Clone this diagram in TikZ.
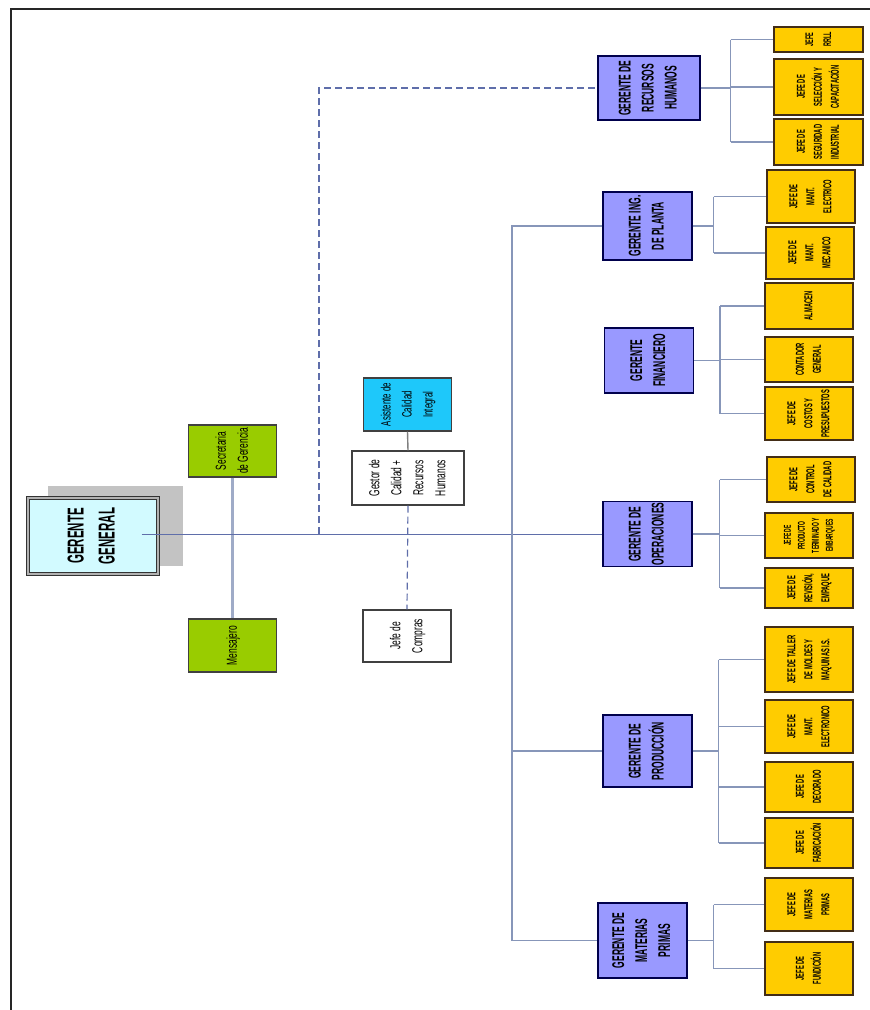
\documentclass[tikz,border=0pt]{standalone}
\usepackage{fontspec}
\usepackage{graphicx}
\newfontfamily\narrowsf[FakeStretch=0.58]{Liberation Sans}
\newfontfamily\narrowersf[FakeStretch=0.5]{Liberation Sans}
\usetikzlibrary{positioning, calc}

\definecolor{gerente}{RGB}{153,153,255}
\definecolor{jefe}{RGB}{255,204,0}
\definecolor{verde}{RGB}{153,204,0}
\definecolor{celeste}{RGB}{30,200,250}
\definecolor{cielo}{RGB}{210,250,255}
\definecolor{linea}{RGB}{95,110,170}
\definecolor{ramalc}{RGB}{135,150,185}
\definecolor{sombra}{RGB}{195,195,195}

% texto vertical, de abajo hacia arriba
\newcommand{\vt}[1]{\rotatebox{90}{\begin{tabular}{@{}c@{}}#1\end{tabular}}}

\begin{document}
\begin{tikzpicture}[x=1pt, y=-1pt,
    caja/.style={draw=black!75, line width=1.1pt, inner sep=0pt, align=center},
    gerente/.style={caja, draw=black!70!blue, fill=gerente, minimum width=89pt,
        font=\narrowersf\bfseries\fontsize{17}{23}\selectfont},
    jefe/.style={caja, draw=black!65!brown, fill=jefe, minimum width=88pt,
        font=\narrowersf\bfseries\fontsize{11.5}{17}\selectfont},
    apoyo/.style={caja, minimum width=88pt, font=\narrowsf\fontsize{14.5}{22}\selectfont},
    linea/.style={draw=linea, line width=1pt},
    ramal/.style={draw=ramalc, line width=1.6pt},
    punteada/.style={draw=linea, line width=1.6pt, dash pattern=on 7pt off 4pt}
]
\useasboundingbox (0,0) rectangle (870,1010);
\draw[black!85, line width=1.3pt] (11,1010) -- (11,9) -- (870,9);

% gerencia general
\fill[sombra] (48,486) rectangle (183,566);
\node[caja, fill=cielo, draw=black!80, double=gray!60, double distance=1.6pt,
    minimum width=130pt, minimum height=76pt,
    font=\narrowersf\bfseries\fontsize{23}{31}\selectfont] (gg) at (93,536) {\vt{GERENTE\\GENERAL}};
\node[apoyo, fill=verde, minimum height=52pt] (sec) at (232.5,451) {\vt{Secretaria\\de Gerencia}};
\node[apoyo, fill=verde, minimum height=53pt] (men) at (232.5,645.5) {\vt{Mensajero}};
\node[apoyo, fill=celeste, minimum height=53pt, font=\narrowsf\fontsize{13.5}{21}\selectfont] (asis) at (407.5,404.5) {\vt{Asistente de\\Calidad\\Integral}};
\node[apoyo, fill=white, minimum width=112pt, minimum height=54pt] (gestor) at (408,478) {\vt{Gestor de\\Calidad +\\Recursos\\Humanos}};
\node[apoyo, fill=white, minimum height=52pt] (compras) at (407,636) {\vt{Jefe de\\Compras}};

% gerentes
\node[gerente, minimum width=102pt, minimum height=64pt] (rh) at (649,88) {\vt{GERENTE DE\\RECURSOS\\HUMANOS}};
\node[gerente, minimum height=68pt] (ip) at (647.5,226) {\vt{GERENTE ING.\\DE PLANTA}};
\node[gerente, minimum height=65pt] (fin) at (649,360.5) {\vt{GERENTE\\FINANCIERO}};
\node[gerente, minimum height=65pt] (op) at (647.5,534) {\vt{GERENTE DE\\OPERACIONES}};
\node[gerente, minimum height=72pt] (pr) at (647.5,751) {\vt{GERENTE DE\\PRODUCCIÓN}};
\node[gerente, minimum height=75pt] (mp) at (642.5,940.5) {\vt{GERENTE DE\\MATERIAS\\PRIMAS}};

% jefaturas
\node[jefe, minimum width=89pt, minimum height=25pt, font=\narrowersf\bfseries\fontsize{11}{18}\selectfont] (rrll) at (818.5,39.5) {\vt{JEFE\\RRLL}};
\node[jefe, minimum width=89pt, minimum height=56pt] (selec) at (818.5,87) {\vt{JEFE DE\\SELECCIÓN Y\\CAPACITACIÓN}};
\node[jefe, minimum width=89pt, minimum height=46pt] (segur) at (818.5,142) {\vt{JEFE DE\\SEGURIDAD\\INDUSTRIAL}};
\node[jefe, minimum height=53pt] (melec) at (811,196.5) {\vt{JEFE DE\\MANT.\\ELECTRICO}};
\node[jefe, minimum height=52pt] (mmec) at (810,253) {\vt{JEFE DE\\MANT.\\MECANICO}};
\node[jefe, minimum height=46pt] (alm) at (809,306) {\vt{ALMACEN}};
\node[jefe, minimum height=45pt] (cont) at (809,359.5) {\vt{CONTADOR\\GENERAL}};
\node[jefe, minimum height=53pt] (cost) at (809,413.5) {\vt{JEFE DE\\COSTOS Y\\PRESUPUESTOS}};
\node[jefe, minimum height=45pt] (ccal) at (811,479.5) {\vt{JEFE DE\\CONTROL\\DE CALIDAD}};
\node[jefe, minimum height=45pt, font=\narrowersf\bfseries\fontsize{10}{14}\selectfont] (pter) at (809,535.5) {\vt{JEFE DE\\PRODUCTO\\TERMINADO Y\\EMBARQUES}};
\node[jefe, minimum height=40pt] (rev) at (809,588) {\vt{JEFE DE\\REVISIÓN,\\EMPAQUE}};
\node[jefe, minimum height=65pt] (tall) at (809,659.5) {\vt{JEFE DE TALLER\\DE MOLDES Y\\MAQUINAS I.S.}};
\node[jefe, minimum height=53pt] (melect) at (809,726.5) {\vt{JEFE DE\\MANT.\\ELECTRONICO}};
\node[jefe, minimum height=50pt] (deco) at (809,787) {\vt{JEFE DE\\DECORADO}};
\node[jefe, minimum height=50pt] (fab) at (809,843) {\vt{JEFE DE\\FABRICACIÓN}};
\node[jefe, minimum height=53pt] (jmp) at (809,904.5) {\vt{JEFE DE\\MATERIAS\\PRIMAS}};
\node[jefe, minimum height=53pt] (fund) at (809,968.5) {\vt{JEFE DE\\FUNDICIÓN}};

% lineas de mando
\coordinate (dj) at (319,534);
\coordinate (tk) at (512,534);
\draw[ramal, line width=2.4pt, draw=ramalc!80] (sec.south) -- (men.north);
\draw[linea] ([xshift=-17pt]op.west -| gg.east) -- (op.west);
\draw[punteada] (dj) |- (rh.west);
\draw[linea, line width=1.4pt, draw=gray] (asis.south) -- (gestor.north);
\draw[punteada, line width=1.2pt] (gestor.south) -- (compras.north);
\draw[ramal, line width=1.3pt] (ip.west) -| (tk) |- (mp.west);
\draw[ramal, line width=1.3pt] (tk |- pr.west) -- (pr.west);

\draw[ramal] (rh.east) -- ++(30,0) coordinate (brh);
\draw[ramal] (brh |- rrll.west) -- (brh |- segur.west);
\foreach \j in {rrll,selec,segur} \draw[ramal] (brh |- \j.west) -- (\j.west);

\draw[ramal] (ip.east) -- ++(21,0) coordinate (bip);
\draw[ramal] (bip |- melec.west) -- (bip |- mmec.west);
\foreach \j in {melec,mmec} \draw[ramal] (bip |- \j.west) -- (\j.west);

\draw[ramal] (fin.east) -- ++(26,0) coordinate (bfin);
\draw[ramal] (bfin |- alm.west) -- (bfin |- cost.west);
\foreach \j in {alm,cont,cost} \draw[ramal] (bfin |- \j.west) -- (\j.west);

\draw[ramal] (op.east) -- ++(27,0) coordinate (bop);
\draw[ramal] (bop |- ccal.west) -- (bop |- rev.west);
\foreach \j in {ccal,pter,rev} \draw[ramal] (bop |- \j.west) -- (\j.west);

\draw[ramal] (pr.east) -- ++(26,0) coordinate (bpr);
\draw[ramal] (bpr |- tall.west) -- (bpr |- fab.west);
\foreach \j in {tall,melect,deco,fab} \draw[ramal] (bpr |- \j.west) -- (\j.west);

\draw[ramal] (mp.east) -- ++(26,0) coordinate (bmp);
\draw[ramal] (bmp |- jmp.west) -- (bmp |- fund.west);
\foreach \j in {jmp,fund} \draw[ramal] (bmp |- \j.west) -- (\j.west);
\end{tikzpicture}
\end{document}
